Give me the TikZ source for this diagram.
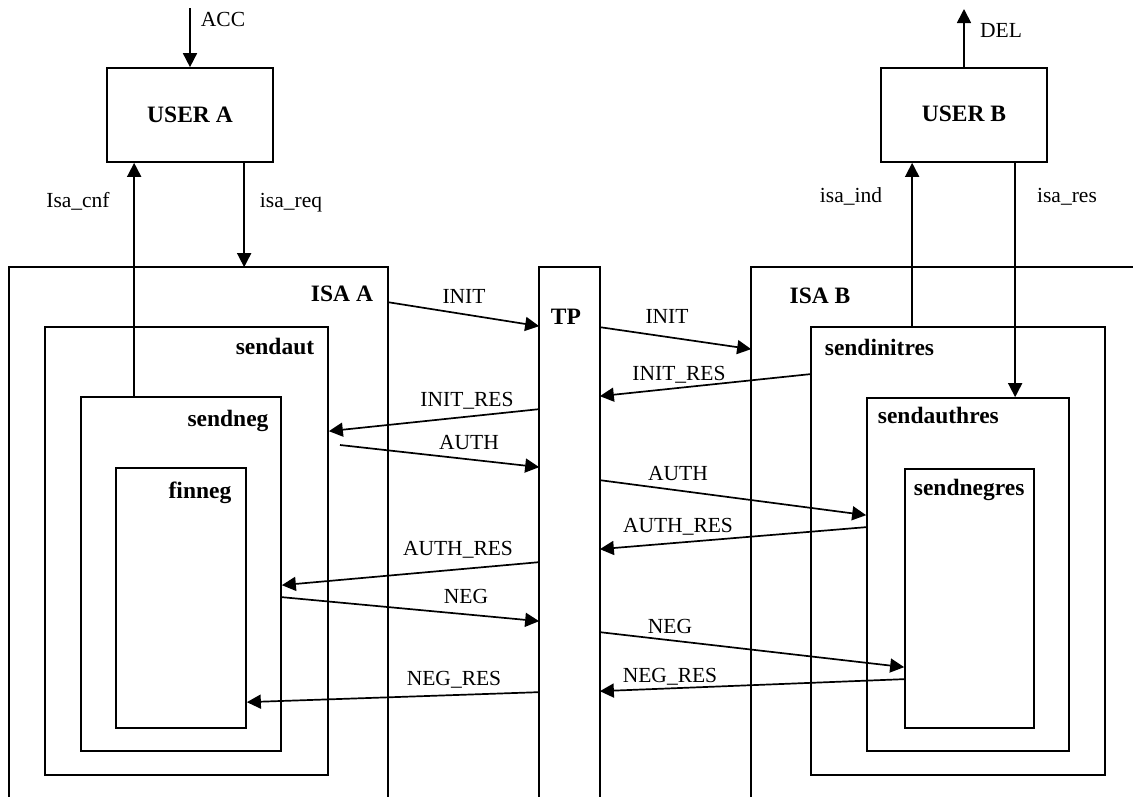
\documentclass[tikz,border=0pt]{standalone}
\usepackage{fontspec}
\setmainfont{Liberation Serif}
\usetikzlibrary{arrows.meta,fit}
\begin{document}
\begin{tikzpicture}[x=1pt,y=-1pt,
  line width=1.7pt,
  box/.style={draw, rectangle, inner sep=0pt},
  area/.style={rectangle, inner sep=0pt},
  arr/.style={-{Triangle[length=14pt,width=14pt]}},
  msg/.style={font=\fontsize{21.5}{24}\selectfont, anchor=base, inner sep=0pt},
  title/.style={font=\fontsize{23.5}{26}\selectfont\bfseries, anchor=base, inner sep=0pt},
]
\useasboundingbox (0,0) rectangle (1133,796);

% users
\node[box, fit={(107,68) (273,162)}] (userA) {};
\node[box, fit={(881,68) (1047,162)}] (userB) {};
\node[title] (tUserA) at (190,122) {USER A};
\node[title] (tUserB) at (964,121) {USER B};

% open frames: ISA A, TP, ISA B
\node[area, fit={(10,268) (387,796)}] (isaA) {};
\node[area, fit={(540,268) (599,796)}] (tp) {};
\node[area, fit={(752,268) (1133,796)}] (isaB) {};
\draw (isaA.south west) |- (isaA.north east) -- (isaA.south east);
\draw (tp.south west) |- (tp.north east) -- (tp.south east);
\draw (isaB.south west) |- (isaB.north east);
\node[title] (tIsaA) at (342,301) {ISA A};
\node[title] (tTp) at (566,324) {TP};
\node[title] (tIsaB) at (820,303) {ISA B};

% nested processes
\node[box, fit={(45,327) (328,775)}] (sendaut) {};
\node[box, fit={(81,397) (281,751)}] (sendneg) {};
\node[box, fit={(116,468) (246,728)}] (finneg) {};
\node[box, fit={(811,327) (1105,775)}] (sendinitres) {};
\node[box, fit={(867,398) (1069,751)}] (sendauthres) {};
\node[box, fit={(905,469) (1034,728)}] (sendnegres) {};
\node[title] (tSendaut) at (275,354) {sendaut};
\node[title] (tSendneg) at (228,426) {sendneg};
\node[title] (tFinneg) at (200,498) {finneg};
\node[title, anchor=base west] (tSendinitres) at (824,355) {sendinitres};
\node[title, anchor=base west] (tSendauthres) at (877,423) {sendauthres};
\node[title, anchor=base west] (tSendnegres) at (913,495) {sendnegres};

% environment signals
\coordinate (accIn) at (190,8);
\coordinate (delOut) at (964,9);
\draw[arr] (accIn) -- (userA.north);
\draw[arr] (userB.north) -- (delOut);
\node[msg] (lAcc) at (223,26) {ACC};
\node[msg] (lDel) at (1001,37) {DEL};

% service primitives
\draw[arr] ([xshift=54pt]sendneg.north west) coordinate (cnfFrom) -- (cnfFrom |- userA.south);
\draw[arr] ([xshift=138pt]userA.south west) coordinate (reqFrom) -- (reqFrom |- isaA.north);
\draw[arr] ([xshift=102pt]sendinitres.north west) coordinate (indFrom) -- (indFrom |- userB.south);
\draw[arr] ([xshift=135pt]userB.south west) coordinate (resFrom) -- (resFrom |- sendauthres.north);
\node[msg] (lCnf) at (78,207) {Isa\_cnf};
\node[msg] (lReq) at (291,207) {isa\_req};
\node[msg] (lInd) at (851,202) {isa\_ind};
\node[msg] (lRes) at (1067,202) {isa\_res};

% protocol messages through TP
\coordinate (authFrom) at (340,445);
\draw[arr] ([yshift=-35pt]isaA.north east) -- ([yshift=-59pt]tp.north west);
\draw[arr] ([yshift=-60pt]tp.north east) -- ([yshift=-82pt]isaB.north west);
\draw[arr] ([yshift=-48pt]sendinitres.north west) -- ([yshift=-129pt]tp.north east);
\draw[arr] ([yshift=-142pt]tp.north west) -- ([yshift=-105pt]sendaut.north east);
\draw[arr] (authFrom) -- ([yshift=-200pt]tp.north west);
\draw[arr] ([yshift=-213pt]tp.north east) -- ([yshift=-118pt]sendauthres.north west);
\draw[arr] ([yshift=-130pt]sendauthres.north west) -- ([yshift=-282pt]tp.north east);
\draw[arr] ([yshift=-295pt]tp.north west) -- ([yshift=-189pt]sendneg.north east);
\draw[arr] ([yshift=-201pt]sendneg.north east) -- ([yshift=-354pt]tp.north west);
\draw[arr] ([yshift=-365pt]tp.north east) -- ([yshift=-199pt]sendnegres.north west);
\draw[arr] ([yshift=-211pt]sendnegres.north west) -- ([yshift=-424pt]tp.north east);
\draw[arr] ([yshift=-425pt]tp.north west) -- ([yshift=-235pt]finneg.north east);

\node[msg] (lInitA) at (464,303) {INIT};
\node[msg] (lInitB) at (667,323) {INIT};
\node[msg] (lInitResB) at (679,380) {INIT\_RES};
\node[msg] (lInitResA) at (467,406) {INIT\_RES};
\node[msg] (lAuthA) at (469,449) {AUTH};
\node[msg] (lAuthB) at (678,480) {AUTH};
\node[msg] (lAuthResB) at (678,532) {AUTH\_RES};
\node[msg] (lAuthResA) at (458,555) {AUTH\_RES};
\node[msg] (lNegA) at (466,603) {NEG};
\node[msg] (lNegB) at (670,633) {NEG};
\node[msg] (lNegResB) at (670,682) {NEG\_RES};
\node[msg] (lNegResA) at (454,685) {NEG\_RES};
\end{tikzpicture}
\end{document}
